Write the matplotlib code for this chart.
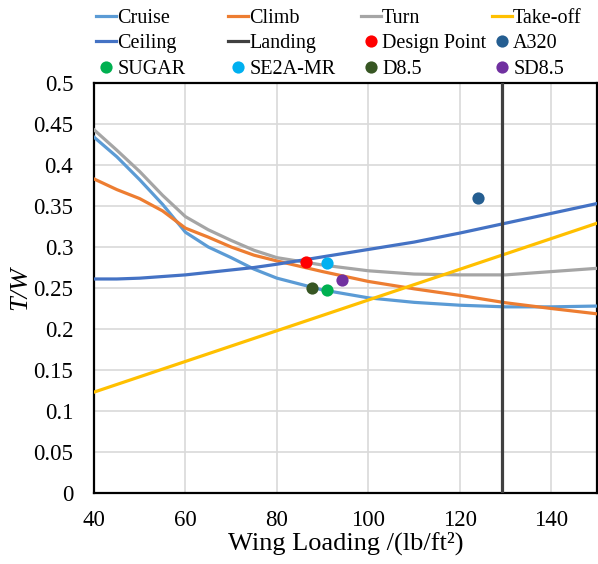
import matplotlib
matplotlib.use("Agg")
import matplotlib.pyplot as plt
from matplotlib.lines import Line2D

plt.rcParams['font.family'] = ['Liberation Serif', 'DejaVu Serif']

# wing loading grid (lb/ft^2)
wl = [40, 45, 50, 55, 60, 65, 70, 75, 80, 90, 100, 110, 120, 130, 140, 150]

cruise = [0.434, 0.410, 0.382, 0.352, 0.318, 0.300, 0.287, 0.273, 0.262,
          0.2476, 0.238, 0.2325, 0.229, 0.227, 0.227, 0.228]
climb = [0.383, 0.370, 0.359, 0.344, 0.323, 0.312, 0.300, 0.290, 0.283,
         0.270, 0.258, 0.249, 0.241, 0.232, 0.225, 0.2185]
turn = [0.443, 0.418, 0.392, 0.363, 0.337, 0.321, 0.308, 0.296, 0.287,
        0.278, 0.271, 0.267, 0.266, 0.266, 0.270, 0.274]
ceiling = [0.261, 0.261, 0.262, 0.264, 0.266, 0.269, 0.272, 0.275, 0.279,
           0.288, 0.297, 0.306, 0.317, 0.329, 0.341, 0.353]
takeoff_wl = [40, 150]
takeoff = [0.123, 0.329]
landing_wl = 129.2

points = {
    "Design Point": (86.3, 0.282),
    "A320": (123.9, 0.360),
    "SUGAR": (91.0, 0.248),
    "SE2A-MR": (91.0, 0.280),
    "D8.5": (87.6, 0.250),
    "SD8.5": (94.3, 0.260),
}
point_colors = {
    "Design Point": "#FF0000",
    "A320": "#255E91",
    "SUGAR": "#00B050",
    "SE2A-MR": "#00B0F0",
    "D8.5": "#375623",
    "SD8.5": "#7030A0",
}

yticks = [0, 0.05, 0.1, 0.15, 0.2, 0.25, 0.3, 0.35, 0.4, 0.45, 0.5]
ytick_labels = ["0", "0.05", "0.1", "0.15", "0.2", "0.25", "0.3", "0.35", "0.4", "0.45", "0.5"]

W, H = 598, 564
fig = plt.figure(figsize=(W / 100, H / 100), dpi=100)
ax = fig.add_axes([94 / W, 71 / H, (597 - 94) / W, (493 - 83) / H])

lw = 2.3
ax.plot(wl, cruise, color="#5B9BD5", lw=lw, zorder=3)
ax.plot(wl, climb, color="#ED7D31", lw=lw, zorder=3)
ax.plot(wl, turn, color="#A5A5A5", lw=lw, zorder=3)
ax.plot(takeoff_wl, takeoff, color="#FFC000", lw=lw, zorder=3)
ax.plot(wl, ceiling, color="#4472C4", lw=lw, zorder=3)
ax.axvline(landing_wl, color="#404040", lw=lw, zorder=3)

for name, (px, py) in points.items():
    ax.plot(px, py, "o", color=point_colors[name], ms=8.8, mec="none", zorder=4)

ax.set_xlim(40, 150)
ax.set_ylim(0, 0.5)
ax.set_xticks(range(40, 141, 20))
ax.set_yticks(yticks)
ax.set_yticklabels(ytick_labels)
ax.grid(True, color="#D9D9D9", lw=1.2, zorder=0)
ax.set_axisbelow(True)
for s in ax.spines.values():
    s.set_color("black")
    s.set_linewidth(1.6)
ax.tick_params(length=0, labelsize=16.5)
ax.tick_params(axis="x", pad=12.5)
ax.tick_params(axis="y", pad=15)

ax.set_xlabel("Wing Loading /(lb/ft²)", fontsize=19, labelpad=0)
ax.set_ylabel("T/W", fontsize=19, fontstyle="italic")
ax.yaxis.set_label_coords(-0.124, 0.5)

def line_h(c):
    return Line2D([], [], color=c, lw=2.3)

def dot_h(c):
    return Line2D([], [], color=c, marker="o", ls="none", ms=8.8, mec="none")

columns = [
    [(line_h("#5B9BD5"), "Cruise"), (line_h("#4472C4"), "Ceiling"), (dot_h("#00B050"), "SUGAR")],
    [(line_h("#ED7D31"), "Climb"), (line_h("#404040"), "Landing"), (dot_h("#00B0F0"), "SE2A-MR")],
    [(line_h("#A5A5A5"), "Turn"), (dot_h("#FF0000"), "Design Point"), (dot_h("#375623"), "D8.5")],
    [(line_h("#FFC000"), "Take-off"), (dot_h("#255E91"), "A320"), (dot_h("#7030A0"), "SD8.5")],
]
col_x = [96, 228, 361, 492]
for cx, col in zip(col_x, columns):
    fig.legend([h for h, _ in col], [t for _, t in col], loc="upper left",
               bbox_to_anchor=(cx / W, 1 - 9 / H), frameon=False, fontsize=14.5,
               handlelength=1.0, handletextpad=0.05, labelspacing=0.31,
               borderpad=0, borderaxespad=0)

fig.savefig("out.png", dpi=100)
